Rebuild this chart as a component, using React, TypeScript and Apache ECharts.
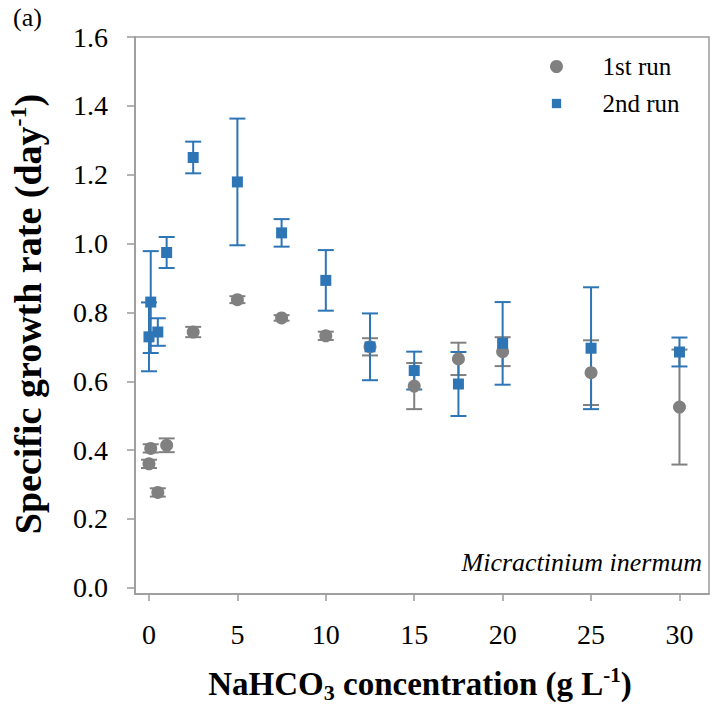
import React, { useEffect, useRef } from "react";
import * as echarts from "echarts";

// NaHCO3 concentration (g/L)
const concentrations = [0, 0.1, 0.5, 1, 2.5, 5, 7.5, 10, 12.5, 15, 17.5, 20, 25, 30];
// 1st run: mean and error
const run1Mean = [0.36, 0.405, 0.277, 0.414, 0.743, 0.837, 0.784, 0.732, 0.7, 0.586, 0.665, 0.686, 0.625, 0.525];
const run1Err = [0.012, 0.012, 0.012, 0.02, 0.015, 0.01, 0.008, 0.012, 0.025, 0.067, 0.047, 0.042, 0.094, 0.167];
// 2nd run: mean and error
const run2Mean = [0.729, 0.83, 0.743, 0.974, 1.25, 1.179, 1.031, 0.893, 0.7, 0.631, 0.592, 0.71, 0.696, 0.685];
const run2Err = [0.1, 0.148, 0.04, 0.045, 0.046, 0.184, 0.04, 0.088, 0.097, 0.055, 0.093, 0.12, 0.177, 0.042];

const xTicks = [0, 5, 10, 15, 20, 25, 30];
const yTicks = [0, 0.2, 0.4, 0.6, 0.8, 1.0, 1.2, 1.4, 1.6];
const seriesNames = ["1st run", "2nd run"];

const GREY = "#808080";
const BLUE = "#2e75b6";
const AXIS = "#9a9a9a";
const SERIF = "Liberation Serif";

function errorRender(color: string, capHalf: number) {
  return (params: any, api: any) => {
    const x = api.value(0);
    const lo = api.value(1);
    const hi = api.value(2);
    const a = api.coord([x, hi]);
    const b = api.coord([x, lo]);
    const style = { stroke: color, lineWidth: 2 };
    return {
      type: "group",
      children: [
        { type: "line", shape: { x1: a[0], y1: a[1], x2: b[0], y2: b[1] }, style },
        { type: "line", shape: { x1: a[0] - capHalf, y1: a[1], x2: a[0] + capHalf, y2: a[1] }, style },
        { type: "line", shape: { x1: b[0] - capHalf, y1: b[1], x2: b[0] + capHalf, y2: b[1] }, style },
      ],
    };
  };
}

type Piece = { t: string; size: number; dy: number; gapBefore?: number };

// Build a bold title out of plain text pieces (sub/superscripts), centred on (0,0)
function titleChildren(pieces: Piece[]) {
  const ctx = document.createElement("canvas").getContext("2d") as CanvasRenderingContext2D;
  const widths = pieces.map((p) => {
    ctx.font = `bold ${p.size}px ${SERIF}`;
    return ctx.measureText(p.t).width;
  });
  const total = pieces.reduce((s, p, i) => s + widths[i] + (p.gapBefore || 0), 0);
  let x = -total / 2;
  return pieces.map((p, i) => {
    x += p.gapBefore || 0;
    const el = {
      type: "text",
      x,
      y: p.dy,
      style: {
        text: p.t,
        fontFamily: SERIF,
        fontWeight: "bold",
        fontSize: p.size,
        fill: "#000",
        align: "left",
        verticalAlign: "middle",
      },
    };
    x += widths[i];
    return el;
  });
}

export default function App() {
  const ref = useRef<HTMLDivElement>(null);
  useEffect(() => {
    if (!ref.current) return;
    const chart = echarts.init(ref.current, undefined, { renderer: "svg" });
    const err1 = concentrations.map((x, i) => [x, run1Mean[i] - run1Err[i], run1Mean[i] + run1Err[i]]);
    const err2 = concentrations.map((x, i) => [x, run2Mean[i] - run2Err[i], run2Mean[i] + run2Err[i]]);
    const pts1 = concentrations.map((x, i) => [x, run1Mean[i]]);
    const pts2 = concentrations.map((x, i) => [x, run2Mean[i]]);

    const xTitle = titleChildren([
      { t: "NaHCO", size: 33, dy: 0 },
      { t: "3", size: 22, dy: 8 },
      { t: "concentration (g L", size: 33, dy: 0, gapBefore: 8.25 },
      { t: "-1", size: 21, dy: -9 },
      { t: ")", size: 33, dy: 0 },
    ]);
    const yTitle = titleChildren([
      { t: "Specific growth rate (day", size: 38, dy: 0 },
      { t: "-1", size: 24, dy: -10 },
      { t: ")", size: 38, dy: 0 },
    ]);

    chart.setOption({
      animation: false,
      backgroundColor: "#ffffff",
      grid: {
        left: 135,
        top: 37,
        right: 6,
        bottom: 112,
        show: true,
        borderColor: AXIS,
        borderWidth: 1.5,
        backgroundColor: "transparent",
      },
      legend: {
        orient: "vertical",
        left: 545,
        top: 49,
        itemWidth: 82,
        itemHeight: 13,
        itemGap: 12,
        textStyle: { fontFamily: SERIF, fontSize: 25, color: "#000" },
        data: [
          { name: seriesNames[0], icon: "circle" },
          { name: seriesNames[1], icon: "path://M-2,-2M0,0L10,0L10,10L0,10ZM12,12" },
        ],
      },
      xAxis: {
        type: "value",
        min: -0.79,
        max: 31.67,
        splitLine: { show: false },
        axisLine: { show: true, onZero: false, lineStyle: { color: AXIS, width: 1.5 } },
        axisTick: { show: true, customValues: xTicks, length: 7, lineStyle: { color: AXIS, width: 1.5 } },
        axisLabel: {
          customValues: xTicks,
          fontFamily: SERIF,
          fontSize: 28,
          color: "#000",
          margin: 26,
        },
      },
      yAxis: {
        type: "value",
        min: -0.018,
        max: 1.6,
        splitLine: { show: false },
        axisLine: { show: true, onZero: false, lineStyle: { color: AXIS, width: 1.5 } },
        axisTick: { show: true, customValues: yTicks, length: 8, lineStyle: { color: AXIS, width: 1.5 } },
        axisLabel: {
          customValues: yTicks,
          formatter: (v: number) => v.toFixed(1),
          fontFamily: SERIF,
          fontSize: 28,
          color: "#000",
          margin: 27,
        },
      },
      graphic: [
        {
          type: "text",
          left: 13,
          top: 4,
          style: { text: "(a)", fontFamily: SERIF, fontSize: 26, fill: "#000" },
        },
        {
          type: "text",
          right: 13,
          top: 549,
          style: { text: "Micractinium inermum", fontFamily: SERIF, fontStyle: "italic", fontSize: 26, fill: "#000" },
        },
        { type: "group", x: 420, y: 684, children: xTitle },
        { type: "group", x: 28, y: 314, rotation: Math.PI / 2, children: yTitle },
      ],
      series: [
        {
          type: "custom",
          renderItem: errorRender(GREY, 8),
          encode: { x: 0, y: [1, 2] },
          data: err1,
          silent: true,
        },
        {
          type: "scatter",
          name: seriesNames[0],
          symbol: "circle",
          symbolSize: 13,
          itemStyle: { color: GREY, opacity: 1 },
          data: pts1,
        },
        {
          type: "custom",
          renderItem: errorRender(BLUE, 8),
          encode: { x: 0, y: [1, 2] },
          data: err2,
          silent: true,
        },
        {
          type: "scatter",
          name: seriesNames[1],
          symbol: "rect",
          symbolSize: 11,
          itemStyle: { color: BLUE, opacity: 1 },
          data: pts2,
        },
      ],
    });
    return () => chart.dispose();
  }, []);

  return (
    <div
      ref={ref}
      style={{ position: "fixed", left: 0, top: 0, width: 715, height: 706, background: "#fff" }}
    />
  );
}
